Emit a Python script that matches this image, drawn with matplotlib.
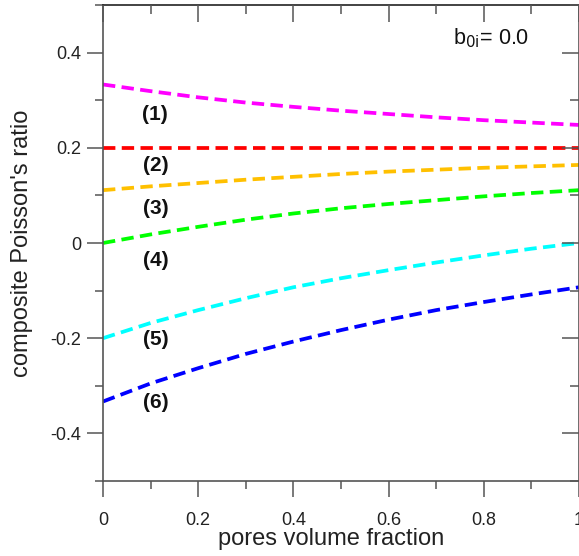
import matplotlib
matplotlib.use("Agg")
import matplotlib.pyplot as plt
from matplotlib.ticker import MultipleLocator

plt.rcParams['font.family'] = ['Liberation Sans', 'DejaVu Sans']

pore_fraction = [0.0, 0.1, 0.2, 0.3, 0.4, 0.5, 0.6, 0.7, 0.8, 0.9, 1.0]
curve1 = [0.333, 0.319, 0.306, 0.295, 0.286, 0.278, 0.271, 0.264, 0.258, 0.253, 0.248]
curve2 = [0.2, 0.2, 0.2, 0.2, 0.2, 0.2, 0.2, 0.2, 0.2, 0.2, 0.2]
curve3 = [0.111, 0.119, 0.126, 0.133, 0.139, 0.145, 0.150, 0.154, 0.158, 0.161, 0.164]
curve4 = [0.0, 0.018, 0.034, 0.049, 0.062, 0.073, 0.082, 0.090, 0.098, 0.105, 0.111]
curve5 = [-0.200, -0.168, -0.141, -0.116, -0.093, -0.074, -0.057, -0.041, -0.026, -0.012, 0.0]
curve6 = [-0.333, -0.295, -0.263, -0.233, -0.207, -0.183, -0.161, -0.141, -0.124, -0.108, -0.093]
curves = [curve1, curve2, curve3, curve4, curve5, curve6]
colors = ['#ff00ff', '#ff0000', '#ffc000', '#00ff00', '#00ffff', '#0000ff']
labels = ['(1)', '(2)', '(3)', '(4)', '(5)', '(6)']
label_x = [0.11, 0.11, 0.11, 0.11, 0.11, 0.11]
label_y = [0.27, 0.163, 0.073, -0.037, -0.203, -0.336]
tick_x = [0, 0.2, 0.4, 0.6, 0.8, 1.0]
tick_x_labels = ['0', '0.2', '0.4', '0.6', '0.8', '1']
tick_y = [-0.4, -0.2, 0, 0.2, 0.4]
tick_y_labels = ['-0.4', '-0.2', '0', '0.2', '0.4']

fig = plt.figure(figsize=(5.79, 5.56), dpi=100)
ax = fig.add_axes([103/579, 1-481/556, 476/579, 476/556])

for y, c in zip(curves, colors):
    ax.plot(pore_fraction, y, color=c, lw=2.7, dashes=(3.3, 1.7), solid_capstyle='butt')

for lx, ly, t in zip(label_x, label_y, labels):
    ax.text(lx, ly, t, fontsize=15, fontweight='bold', ha='center', va='center', color='#111111')

ax.text(0.735, 0.43, r'b$_{\mathrm{0i}}$= 0.0', fontsize=15.5, ha='left', va='center', color='#111111')

ax.set_xlim(0, 1)
ax.set_ylim(-0.5, 0.5)
ax.set_xticks(tick_x)
ax.set_xticklabels(tick_x_labels)
ax.set_yticks(tick_y)
ax.set_yticklabels(tick_y_labels)
ax.xaxis.set_minor_locator(MultipleLocator(0.1))
ax.yaxis.set_minor_locator(MultipleLocator(0.1))

spine_col = '#555555'
for s in ax.spines.values():
    s.set_color(spine_col)
    s.set_linewidth(1.2)
ax.spines['top'].set_color('#222222')
ax.tick_params(which='major', direction='out', length=11.5, width=1.1, color=spine_col,
               labelsize=13, labelcolor='#222222', pad=4)
ax.tick_params(axis='x', which='major', pad=11)
ax.tick_params(which='minor', direction='out', length=6, width=1.1, color=spine_col)

# inward mirrored ticks on top/right
axt = ax.twiny()
axt.set_xlim(0, 1)
axt.xaxis.set_major_locator(MultipleLocator(0.2))
axt.xaxis.set_minor_locator(MultipleLocator(0.1))
axt.tick_params(which='major', direction='in', length=12, width=1.1, color=spine_col, labeltop=False)
axt.tick_params(which='minor', direction='in', length=6.5, width=1.1, color=spine_col)
axr = ax.twinx()
axr.set_ylim(-0.5, 0.5)
axr.yaxis.set_major_locator(MultipleLocator(0.2))
axr.yaxis.set_minor_locator(MultipleLocator(0.1))
axr.tick_params(which='major', direction='in', length=12, width=1.1, color=spine_col, labelright=False)
axr.tick_params(which='minor', direction='in', length=6.5, width=1.1, color=spine_col)
for a in (axt, axr):
    for s in a.spines.values():
        s.set_visible(False)

ax.set_xlabel('pores volume fraction', fontsize=17, color='#222222')
ax.set_ylabel("composite Poisson's ratio", fontsize=17, color='#222222')
ax.xaxis.set_label_coords(0.48, -0.099)
ax.yaxis.set_label_coords(-0.148, 0.5)

fig.savefig('out.png', dpi=100)
